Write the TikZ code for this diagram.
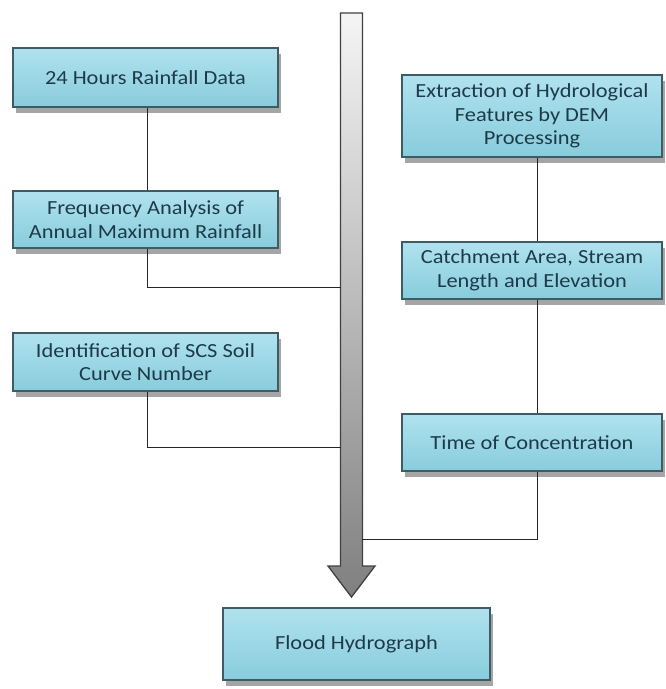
\documentclass[tikz,border=0pt]{standalone}
\usepackage{fontspec}
\setmainfont{Carlito}[FakeStretch=1.12]
\usetikzlibrary{shadows,backgrounds}
\definecolor{boxtop}{HTML}{B0E2EE}
\definecolor{boxbot}{HTML}{88CCDC}
\definecolor{boxedge}{HTML}{3E5C66}
\definecolor{txt}{HTML}{1E3A48}
\tikzset{
  procbox/.style={rectangle, top color=boxtop, bottom color=boxbot, draw=boxedge, line width=1.2pt,
    align=center, text=txt, font=\fontsize{20}{23.5}\selectfont, inner sep=2pt,
    drop shadow={shadow xshift=3pt, shadow yshift=-6pt, opacity=0.5, fill=black!70}},
  link/.style={draw=black!85, line width=1pt},
  bigarrow/.style={draw=black!75, line width=1.3pt, top color=black!4, bottom color=black!50}
}
\begin{document}
\begin{tikzpicture}[x=1pt,y=-1pt]
\useasboundingbox (0,0) rectangle (665,689);
% big arrow
\path[bigarrow] (340.5,13) -- (362.5,13) -- (362.5,566) -- (375,566) -- (351.5,597) -- (328,566) -- (340.5,566) -- cycle;
\coordinate (lx) at (147,0);
\coordinate (rx) at (537,0);
\coordinate (j1) at (341,287);
\coordinate (j2) at (341,447);
\coordinate (j3) at (362,539);
% boxes
\node[procbox, minimum width=265pt, minimum height=59pt] (b1) at (145.5,77.5) {24 Hours Rainfall Data};
\node[procbox, minimum width=265pt, minimum height=57pt] (b2) at (145.5,219.5) {Frequency Analysis of\\Annual Maximum Rainfall};
\node[procbox, minimum width=265pt, minimum height=58pt] (b3) at (145.5,362) {Identification of SCS Soil\\Curve Number};
\node[procbox, minimum width=260pt, minimum height=82pt] (b4) at (532,116) {Extraction of Hydrological\\Features by DEM\\Processing};
\node[procbox, minimum width=260pt, minimum height=57pt] (b5) at (532,270.5) {Catchment Area, Stream\\Length and Elevation};
\node[procbox, minimum width=260pt, minimum height=57pt] (b6) at (532,442.5) {Time of Concentration};
\node[procbox, minimum width=267pt, minimum height=72pt] (b7) at (356.5,644) {Flood Hydrograph};
% connectors
\draw[link] (b1.south -| lx) -- (b2.north -| lx);
\draw[link] (b2.south -| lx) |- (j1);
\draw[link] (b3.south -| lx) |- (j2);
\draw[link] (b4.south -| rx) -- (b5.north -| rx);
\draw[link] (b5.south -| rx) -- (b6.north -| rx);
\draw[link] (b6.south -| rx) |- (j3);
\end{tikzpicture}
\end{document}
